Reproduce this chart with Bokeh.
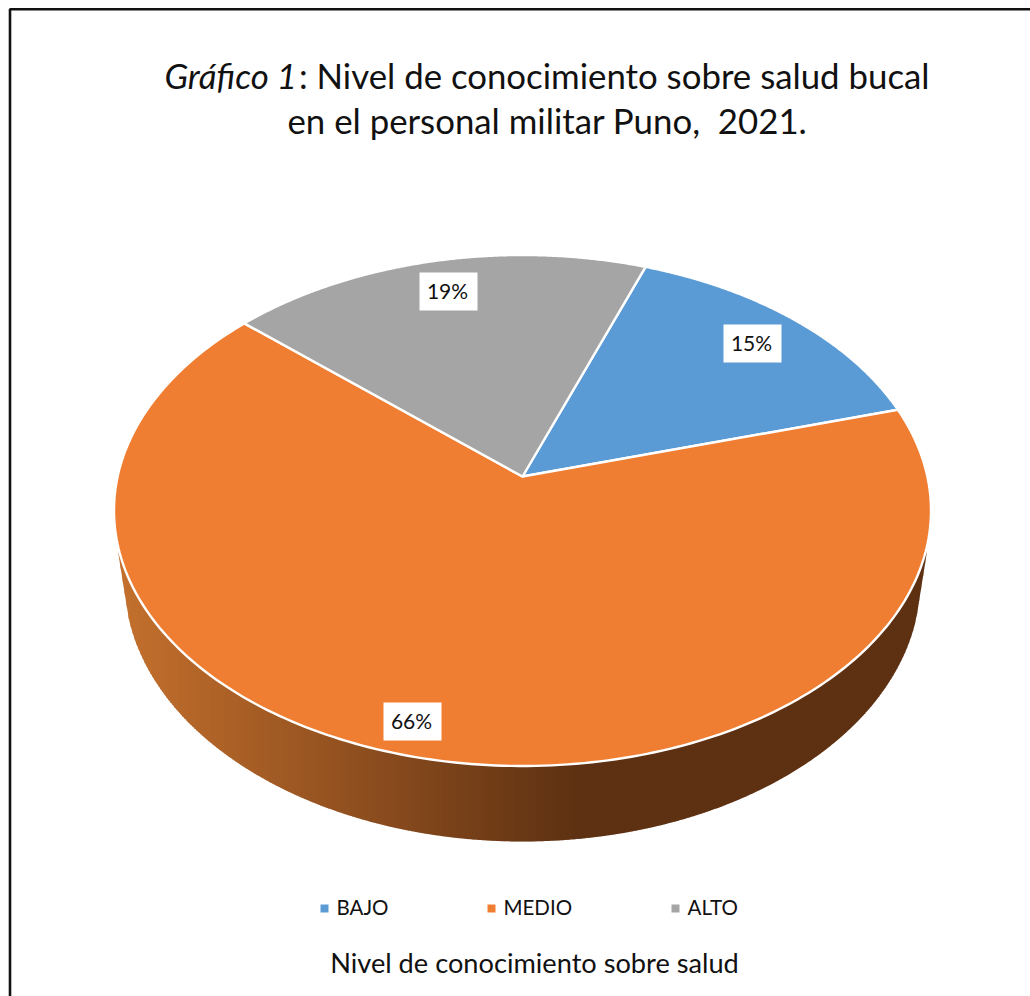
import numpy as np
from bokeh.core.properties import value
from bokeh.embed import file_html
from bokeh.models import Range1d
from bokeh.plotting import figure
from bokeh.resources import INLINE

# Chart content
title_italic = "Gráfico 1"
title_rest = ": Nivel de conocimiento sobre salud bucal"
title_second = "en el personal militar Puno,\u00a0 2021."
axis_caption = "Nivel de conocimiento sobre salud"
categories = ["BAJO", "MEDIO", "ALTO"]
percentages = [15, 66, 19]
slice_colors = ["#5B9BD5", "#F07E32", "#A5A5A5"]

# Page geometry in pixels (y grows downwards)
W, H = 1030, 996
FONT = "Lato"
CX, CY, RX, RY = 522.0, 510.0, 408.5, 255.5      # upper face of the disc
APEX_Y = 476.0                                   # where the slices meet
LOW_CY, LOW_RX, LOW_RY = 580.0, 398.0, 261.0     # lower rim of the disc
START_DEG = 20.0                                 # first slice boundary, clockwise from north
TIP_DX = 404.0                                   # half width where the wall emerges
TIP_Y = 554.0
TANGENT_DX = 394.0


def project(theta_deg):
    """Perspective view of a point on the disc rim, theta clockwise from north."""
    k = (CY - APEX_Y) / RY
    t = np.radians(theta_deg)
    u, v = np.sin(t), np.cos(t)
    d = 1 + k * v
    return CX + RX * u * np.sqrt(1 - k * k) / d, CY - RY * (v + k) / d


p = figure(
    width=W, height=H, x_range=Range1d(0, W), y_range=Range1d(H, 0),
    output_backend="svg", toolbar_location=None, min_border=0,
    background_fill_color="white", border_fill_color="white", outline_line_color=None,
)
p.axis.visible = False
p.grid.visible = False

# Page frame, running off the right and bottom edges
p.line([9.5, 9.5, W + 5], [H + 5, 8.8, 8.8], line_color="#111111", line_width=2.6)

# Side wall of the disc: thin vertical strips shaded from left to right
left_rgb = np.array([196, 112, 45])
right_rgb = np.array([94, 49, 18])
GRAD_END = 575.0


def upper_y(x):
    return CY + RY * np.sqrt(np.clip(1 - ((x - CX) / RX) ** 2, 0, 1))


def lower_y(x):
    dx = np.abs(x - CX)
    rim = LOW_CY + LOW_RY * np.sqrt(np.clip(1 - (np.minimum(dx, TANGENT_DX) / LOW_RX) ** 2, 0, 1))
    # beyond the tangent point the silhouette runs straight to the tip
    frac = np.clip((dx - TANGENT_DX) / (TIP_DX - TANGENT_DX), 0, 1)
    return rim + (TIP_Y - rim) * frac


edges = np.arange(CX - TIP_DX, CX + TIP_DX + 2, 2.0)
xs_wall, ys_wall, wall_colors = [], [], []
for a, b in zip(edges[:-1], edges[1:]):
    b2 = min(b + 0.7, CX + TIP_DX)
    xs_wall.append([a, b2, b2, a])
    ys_wall.append([upper_y(a) - 1, upper_y(b2) - 1, lower_y(b2), lower_y(a)])
    t = min((a - edges[0]) / (GRAD_END - edges[0]), 1.0)
    r, g, bl = (left_rgb + (right_rgb - left_rgb) * t).round().astype(int)
    wall_colors.append(f"#{r:02x}{g:02x}{bl:02x}")
p.patches(xs_wall, ys_wall, fill_color=wall_colors, line_color=None)

# Upper face: one polygon per slice, boundaries taken from the percentages
total = sum(percentages)
bounds = START_DEG + np.concatenate([[0], np.cumsum(percentages)]) * 360.0 / total
xs_top, ys_top = [], []
for i in range(len(percentages)):
    th = np.linspace(bounds[i], bounds[i + 1], 240)
    ex, ey = project(th)
    xs_top.append(np.concatenate([[CX], ex]).tolist())
    ys_top.append(np.concatenate([[APEX_Y], ey]).tolist())
p.patches(xs_top, ys_top, fill_color=slice_colors, line_color="white", line_width=2.4, line_join="round")

# Percentage labels on white boxes
label_x = [752, 412, 448]
label_y = [343, 721, 291]
p.rect(label_x, label_y, width=58, height=38, fill_color="white", line_color=None)
p.text([x - 1 for x in label_x], [y - 1 for y in label_y], text=[f"{v}%" for v in percentages],
       text_font=value(FONT), text_font_size="21px", text_color="#111111",
       text_align="center", text_baseline="middle")

# Legend
swatch_x = [320, 487, 671]
p.quad(left=swatch_x, right=[x + 8 for x in swatch_x], top=[904] * 3, bottom=[912] * 3,
       fill_color=slice_colors, line_color=None)
p.text([x + 16 for x in swatch_x], [906] * 3, text=categories, text_font=value(FONT),
       text_font_size="20.5px", text_color="#111111", text_align="left", text_baseline="middle")

# Caption
p.text([534], [962], text=[axis_caption], text_font=value(FONT), text_font_size="27.2px",
       text_color="#111111", text_align="center", text_baseline="middle")

# Title, with its italic lead-in
p.text([164], [75], text=[title_italic], text_font=value(FONT), text_font_style="italic",
       text_font_size="34.8px", text_color="#111111", text_align="left", text_baseline="middle")
p.text([929], [75], text=[title_rest], text_font=value(FONT), text_font_size="34.8px",
       text_color="#111111", text_align="right", text_baseline="middle")
p.text([547], [120], text=[title_second], text_font=value(FONT), text_font_size="34.8px",
       text_color="#111111", text_align="center", text_baseline="middle")

open("out.html", "w").write(file_html(p, INLINE))
